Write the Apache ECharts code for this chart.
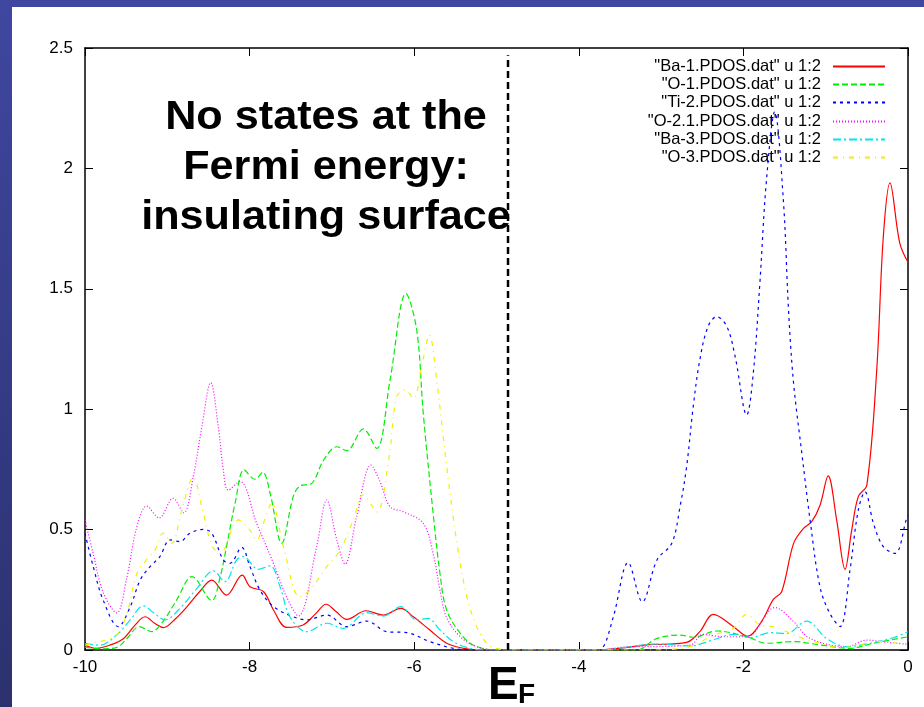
<!DOCTYPE html>
<html>
<head>
<meta charset="utf-8">
<script src="https://cdn.jsdelivr.net/npm/echarts@6/dist/echarts.min.js"></script>
<style>
html,body{margin:0;padding:0;}
body{width:924px;height:707px;background:linear-gradient(to bottom,#3f47a0,#2c316e);position:relative;overflow:hidden;}
#paper{position:absolute;left:12px;top:7px;width:912px;height:700px;background:#fff;}
#chart{position:absolute;left:0;top:0;width:924px;height:707px;}
</style>
</head>
<body>
<div id="paper"></div>
<div id="chart"></div>
<script>
// ---- data (energy eV, PDOS) ----
const xTicks = [-10, -8, -6, -4, -2, 0];
const yTicks = [0, 0.5, 1, 1.5, 2, 2.5];
const fermiX = -4.86;
const fermiTop = 2.47;
const seriesNames = ['"Ba-1.PDOS.dat" u 1:2', '"O-1.PDOS.dat" u 1:2', '"Ti-2.PDOS.dat" u 1:2',
  '"O-2.1.PDOS.dat" u 1:2', '"Ba-3.PDOS.dat" u 1:2', '"O-3.PDOS.dat" u 1:2'];
const annotationLines = ['No states at the', 'Fermi energy:', 'insulating surface'];

const ba1 = [[-10,0.02],[-9.86,0.007],[-9.7,0.02],[-9.53,0.048],[-9.4,0.1],[-9.27,0.138],[-9.15,0.11],[-9.05,0.093],[-8.9,0.13],[-8.76,0.18],[-8.6,0.245],[-8.46,0.29],[-8.28,0.228],[-8.09,0.311],[-7.995,0.263],[-7.83,0.242],[-7.71,0.166],[-7.55,0.094],[-7.35,0.104],[-7.2,0.15],[-7.07,0.19],[-6.95,0.16],[-6.82,0.127],[-6.586,0.163],[-6.375,0.145],[-6.164,0.173],[-6.01,0.138],[-5.81,0.083],[-5.605,0.028],[-5.4,0.007],[-5.2,0],[-3.8,0],[-3.5,0.007],[-3.175,0.021],[-2.69,0.032],[-2.53,0.076],[-2.366,0.148],[-2.12,0.097],[-1.95,0.057],[-1.78,0.118],[-1.636,0.21],[-1.535,0.242],[-1.39,0.443],[-1.27,0.505],[-1.17,0.533],[-1.07,0.6],[-0.97,0.723],[-0.867,0.54],[-0.765,0.335],[-0.684,0.498],[-0.604,0.637],[-0.5,0.685],[-0.38,1.163],[-0.3,1.716],[-0.219,1.94],[-0.1,1.69],[0,1.61]];

const o1 = [[-10,0.012],[-9.8,0.005],[-9.62,0.01],[-9.49,0.048],[-9.34,0.097],[-9.19,0.076],[-9.05,0.12],[-8.886,0.208],[-8.7,0.305],[-8.46,0.205],[-8.36,0.3],[-8.28,0.43],[-8.17,0.62],[-8.068,0.748],[-7.934,0.709],[-7.84,0.738],[-7.75,0.65],[-7.61,0.443],[-7.47,0.637],[-7.39,0.681],[-7.245,0.692],[-7.1,0.789],[-6.94,0.844],[-6.82,0.828],[-6.618,0.918],[-6.456,0.837],[-6.294,1.12],[-6.1,1.48],[-5.97,1.33],[-5.89,0.983],[-5.77,0.568],[-5.687,0.318],[-5.606,0.166],[-5.44,0.069],[-5.28,0.02],[-5.0,0],[-3.3,0],[-3.05,0.048],[-2.77,0.062],[-2.61,0.053],[-2.325,0.079],[-1.96,0.055],[-1.72,0.028],[-1.39,0.035],[-1.07,0.021],[-0.705,0.007],[-0.42,0.028],[0,0.055]];

const ti2 = [[-10,0.485],[-9.9,0.346],[-9.78,0.208],[-9.595,0.097],[-9.45,0.18],[-9.33,0.29],[-9.21,0.346],[-9.09,0.388],[-8.967,0.457],[-8.846,0.45],[-8.724,0.485],[-8.56,0.501],[-8.46,0.485],[-8.32,0.374],[-8.24,0.36],[-8.096,0.426],[-7.995,0.346],[-7.874,0.249],[-7.71,0.18],[-7.47,0.138],[-7.306,0.125],[-7.063,0.145],[-6.82,0.097],[-6.577,0.12],[-6.334,0.076],[-6.09,0.072],[-5.81,0.035],[-5.525,0.007],[-5.3,0],[-3.8,0],[-3.72,0.005],[-3.58,0.138],[-3.4,0.363],[-3.228,0.2],[-3.05,0.374],[-2.87,0.443],[-2.77,0.595],[-2.69,0.761],[-2.61,1.01],[-2.53,1.204],[-2.43,1.343],[-2.325,1.384],[-2.2,1.343],[-2.1,1.218],[-1.96,0.976],[-1.88,1.149],[-1.8,1.523],[-1.72,1.95],[-1.62,2.235],[-1.515,1.87],[-1.45,1.4],[-1.39,1.107],[-1.29,0.817],[-1.19,0.54],[-1.07,0.263],[-0.95,0.152],[-0.826,0.097],[-0.705,0.332],[-0.604,0.581],[-0.522,0.657],[-0.42,0.526],[-0.3,0.429],[-0.158,0.401],[-0.016,0.547],[0,0.56]];

const o21 = [[-10,0.54],[-9.9,0.4],[-9.78,0.24],[-9.615,0.154],[-9.49,0.304],[-9.37,0.512],[-9.25,0.598],[-9.1,0.548],[-8.93,0.63],[-8.8,0.57],[-8.684,0.72],[-8.58,0.927],[-8.473,1.11],[-8.38,0.927],[-8.32,0.748],[-8.26,0.664],[-8.117,0.7],[-7.914,0.526],[-7.71,0.36],[-7.55,0.22],[-7.408,0.141],[-7.185,0.43],[-7.063,0.623],[-6.94,0.457],[-6.84,0.357],[-6.7,0.553],[-6.525,0.768],[-6.416,0.7],[-6.294,0.595],[-6.13,0.574],[-5.89,0.526],[-5.77,0.4],[-5.687,0.25],[-5.61,0.138],[-5.44,0.055],[-5.24,0.014],[-5.0,0],[-3.7,0],[-3.5,0.011],[-2.65,0.02],[-2.49,0.065],[-2.244,0.055],[-1.96,0.055],[-1.616,0.176],[-1.39,0.118],[-1.19,0.048],[-0.745,0.014],[-0.5,0.041],[-0.259,0.032],[0,0.024]];

const ba3 = [[-10,0.028],[-9.82,0.02],[-9.615,0.062],[-9.45,0.125],[-9.29,0.183],[-9.15,0.15],[-9.03,0.125],[-8.846,0.173],[-8.64,0.256],[-8.44,0.329],[-8.3,0.284],[-8.157,0.374],[-8.077,0.388],[-7.894,0.335],[-7.75,0.35],[-7.63,0.263],[-7.51,0.138],[-7.306,0.076],[-7.063,0.111],[-6.86,0.09],[-6.577,0.155],[-6.375,0.141],[-6.164,0.18],[-5.97,0.125],[-5.83,0.131],[-5.687,0.083],[-5.525,0.035],[-5.32,0.007],[-5.1,0],[-3.7,0],[-3.46,0.01],[-3.05,0.025],[-2.65,0.017],[-2.366,0.042],[-2.12,0.065],[-1.92,0.051],[-1.676,0.072],[-1.474,0.069],[-1.23,0.12],[-0.99,0.048],[-0.745,0.014],[-0.462,0.028],[-0.18,0.051],[0,0.076]];

const o3 = [[-10,0.02],[-9.82,0.035],[-9.615,0.062],[-9.49,0.152],[-9.37,0.318],[-9.25,0.376],[-9.15,0.415],[-9.05,0.485],[-8.946,0.443],[-8.825,0.581],[-8.684,0.717],[-8.58,0.595],[-8.46,0.436],[-8.36,0.4],[-8.137,0.54],[-8.0,0.5],[-7.914,0.457],[-7.833,0.526],[-7.73,0.609],[-7.59,0.43],[-7.39,0.221],[-7.266,0.249],[-7.063,0.346],[-6.9,0.415],[-6.74,0.54],[-6.618,0.644],[-6.456,0.574],[-6.31,0.789],[-6.213,1.052],[-6.11,1.08],[-6.01,1.045],[-5.91,1.177],[-5.816,1.308],[-5.727,1.12],[-5.605,0.761],[-5.48,0.443],[-5.36,0.221],[-5.24,0.097],[-5.12,0.028],[-5.0,0.007],[-4.85,0],[-3.1,0],[-2.65,0.014],[-2.366,0.062],[-2.12,0.09],[-1.96,0.148],[-1.8,0.104],[-1.595,0.094],[-1.39,0.062],[-1.15,0.035],[-0.79,0.01],[-0.34,0.035],[0,0.02]];

const seriesData = [ba1, o1, ti2, o21, ba3, o3];
const colors = ['#ff0000', '#00ee00', '#0000ff', '#ff00ff', '#00e5ee', '#f0f000'];
const dashes = ['solid', [6, 3], [3, 4], [1, 2], [8, 3, 2, 3], [5, 5, 1, 5]];

const chart = echarts.init(document.getElementById('chart'), null, {renderer: 'canvas'});
const FONT = '"Liberation Sans", Arial, Helvetica, sans-serif';

function makeAxis(extra) {
  return Object.assign({
    type: 'value',
    axisLine: {show: true, onZero: false, lineStyle: {color: '#000', width: 1.5}},
    axisTick: {show: true, inside: true, length: 8, lineStyle: {color: '#000', width: 1}},
    splitLine: {show: false}
  }, extra);
}

const series = seriesData.map((d, i) => ({
  name: seriesNames[i],
  type: 'line',
  data: d,
  symbol: 'none',
  smooth: 0.35,
  z: 3 + i,
  lineStyle: {color: colors[i], width: 1.2, type: dashes[i]},
  itemStyle: {color: colors[i]}
}));
series.push({
  name: 'fermi',
  type: 'line',
  data: [[fermiX, 0], [fermiX, fermiTop]],
  symbol: 'none',
  z: 10,
  lineStyle: {color: '#000', width: 2.5, type: [7, 4]}
});

const legendCenters = [66, 84, 102, 121, 139, 157];
const legends = seriesNames.map((n, i) => ({
  data: [n],
  right: 38,
  top: legendCenters[i] - 8,
  orient: 'vertical',
  align: 'right',
  padding: 0,
  itemWidth: 52,
  itemHeight: 14,
  selectedMode: false,
  itemStyle: {color: 'rgba(0,0,0,0)', borderWidth: 0, opacity: 0},
  textStyle: {fontFamily: FONT, fontSize: 16.5, color: '#000', lineHeight: 16, padding: [0, 7, 0, 0]}
}));

const xRange = {min: xTicks[0], max: xTicks[xTicks.length - 1], interval: xTicks[1] - xTicks[0]};
const yRange = {min: yTicks[0], max: yTicks[yTicks.length - 1], interval: yTicks[1] - yTicks[0]};

chart.setOption({
  animation: false,
  backgroundColor: 'transparent',
  grid: {left: 85, top: 48, right: 16, bottom: 57},
  legend: legends,
  xAxis: [
    makeAxis(Object.assign({position: 'bottom', axisLabel: {color: '#000', fontSize: 17, fontFamily: FONT, margin: 9}}, xRange)),
    makeAxis(Object.assign({position: 'top', axisLabel: {show: false}}, xRange))
  ],
  yAxis: [
    makeAxis(Object.assign({position: 'left', axisLabel: {color: '#000', fontSize: 17, fontFamily: FONT, margin: 12}}, yRange)),
    makeAxis(Object.assign({position: 'right', axisLabel: {show: false}}, yRange))
  ],
  graphic: [
    {type: 'text', x: 326, y: 93, scaleX: 1.08, style: {text: annotationLines.join('\n'), fontFamily: FONT, fontWeight: 'bold', fontSize: 40, lineHeight: 50, textAlign: 'center', fill: '#000'}},
    {type: 'text', x: 488, y: 663, style: {text: 'E', fontFamily: FONT, fontWeight: 'bold', fontSize: 46, fill: '#000'}},
    {type: 'text', x: 518, y: 681, style: {text: 'F', fontFamily: FONT, fontWeight: 'bold', fontSize: 28, fill: '#000'}}
  ],
  series: series
});
</script>
</body>
</html>
